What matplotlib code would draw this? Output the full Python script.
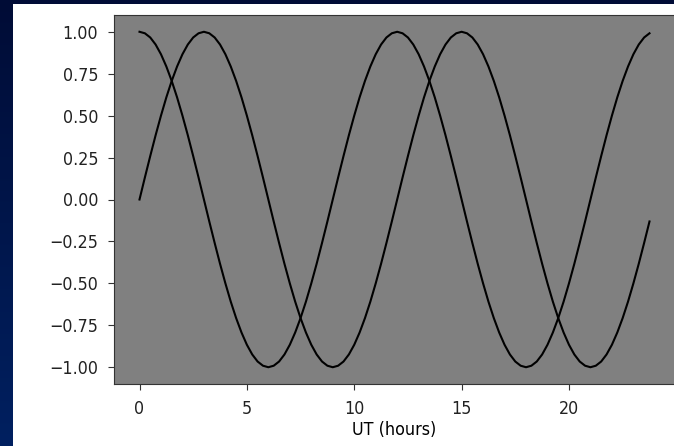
import numpy as np
import matplotlib
matplotlib.use("Agg")
import matplotlib.pyplot as plt
from matplotlib.patches import Rectangle

hours = [0.00, 0.25, 0.50, 0.75, 1.00, 1.25, 1.50, 1.75, 2.00, 2.25, 2.50, 2.75,
         3.00, 3.25, 3.50, 3.75, 4.00, 4.25, 4.50, 4.75, 5.00, 5.25, 5.50, 5.75,
         6.00, 6.25, 6.50, 6.75, 7.00, 7.25, 7.50, 7.75, 8.00, 8.25, 8.50, 8.75,
         9.00, 9.25, 9.50, 9.75, 10.00, 10.25, 10.50, 10.75, 11.00, 11.25, 11.50, 11.75,
         12.00, 12.25, 12.50, 12.75, 13.00, 13.25, 13.50, 13.75, 14.00, 14.25, 14.50, 14.75,
         15.00, 15.25, 15.50, 15.75, 16.00, 16.25, 16.50, 16.75, 17.00, 17.25, 17.50, 17.75,
         18.00, 18.25, 18.50, 18.75, 19.00, 19.25, 19.50, 19.75, 20.00, 20.25, 20.50, 20.75,
         21.00, 21.25, 21.50, 21.75, 22.00, 22.25, 22.50, 22.75, 23.00, 23.25, 23.50, 23.75]

cos_series = [1.000, 0.991, 0.966, 0.924, 0.866, 0.793, 0.707, 0.609, 0.500, 0.383, 0.259, 0.131,
              0.000, -0.131, -0.259, -0.383, -0.500, -0.609, -0.707, -0.793, -0.866, -0.924, -0.966, -0.991,
              -1.000, -0.991, -0.966, -0.924, -0.866, -0.793, -0.707, -0.609, -0.500, -0.383, -0.259, -0.131,
              0.000, 0.131, 0.259, 0.383, 0.500, 0.609, 0.707, 0.793, 0.866, 0.924, 0.966, 0.991,
              1.000, 0.991, 0.966, 0.924, 0.866, 0.793, 0.707, 0.609, 0.500, 0.383, 0.259, 0.131,
              0.000, -0.131, -0.259, -0.383, -0.500, -0.609, -0.707, -0.793, -0.866, -0.924, -0.966, -0.991,
              -1.000, -0.991, -0.966, -0.924, -0.866, -0.793, -0.707, -0.609, -0.500, -0.383, -0.259, -0.131,
              0.000, 0.131, 0.259, 0.383, 0.500, 0.609, 0.707, 0.793, 0.866, 0.924, 0.966, 0.991]

sin_series = [0.000, 0.131, 0.259, 0.383, 0.500, 0.609, 0.707, 0.793, 0.866, 0.924, 0.966, 0.991,
              1.000, 0.991, 0.966, 0.924, 0.866, 0.793, 0.707, 0.609, 0.500, 0.383, 0.259, 0.131,
              0.000, -0.131, -0.259, -0.383, -0.500, -0.609, -0.707, -0.793, -0.866, -0.924, -0.966, -0.991,
              -1.000, -0.991, -0.966, -0.924, -0.866, -0.793, -0.707, -0.609, -0.500, -0.383, -0.259, -0.131,
              0.000, 0.131, 0.259, 0.383, 0.500, 0.609, 0.707, 0.793, 0.866, 0.924, 0.966, 0.991,
              1.000, 0.991, 0.966, 0.924, 0.866, 0.793, 0.707, 0.609, 0.500, 0.383, 0.259, 0.131,
              0.000, -0.131, -0.259, -0.383, -0.500, -0.609, -0.707, -0.793, -0.866, -0.924, -0.966, -0.991,
              -1.000, -0.991, -0.966, -0.924, -0.866, -0.793, -0.707, -0.609, -0.500, -0.383, -0.259, -0.131]

x_label = "UT (hours)"

W, H = 674, 446
fig = plt.figure(figsize=(W / 100, H / 100), dpi=100)

# slide background gradient
bg = fig.add_axes([0, 0, 1, 1], zorder=-10)
bg.axis("off")
top = np.array([0x00, 0x0c, 0x36]) / 255
bot = np.array([0x00, 0x20, 0x60]) / 255
t = np.linspace(0, 1, 256)[:, None]
grad = top[None, :] * (1 - t) + bot[None, :] * t
grad = np.repeat(grad[:, None, :], 2, axis=1)
bg.imshow(grad, aspect="auto", extent=[0, 1, 0, 1], origin="upper")
bg.set_xlim(0, 1)
bg.set_ylim(0, 1)
bg.add_patch(Rectangle((13 / W, 0), 1.0, (H - 4) / H, facecolor="white",
                       edgecolor="none", transform=bg.transAxes, zorder=2))

left_px, right_px, top_px, bottom_px = 114, 675, 15, 384
ax = fig.add_axes([left_px / W, (H - bottom_px) / H,
                   (right_px - left_px) / W, (bottom_px - top_px) / H])
ax.set_facecolor("#808080")
ax.plot(hours, cos_series, color="black", lw=1.5)
ax.plot(hours, sin_series, color="black", lw=1.5)

font = dict(family="DejaVu Sans", stretch="condensed", size=12.8)
ax.set_xlabel(x_label, fontdict=font, labelpad=2.5)
ax.tick_params(length=4.5, pad=7, colors="#333333", labelcolor="#222222")
for lab in ax.get_xticklabels() + ax.get_yticklabels():
    lab.set_fontproperties(matplotlib.font_manager.FontProperties(**font))
for s in ax.spines.values():
    s.set_color("#333333")

fig.savefig("out.png", dpi=100)
